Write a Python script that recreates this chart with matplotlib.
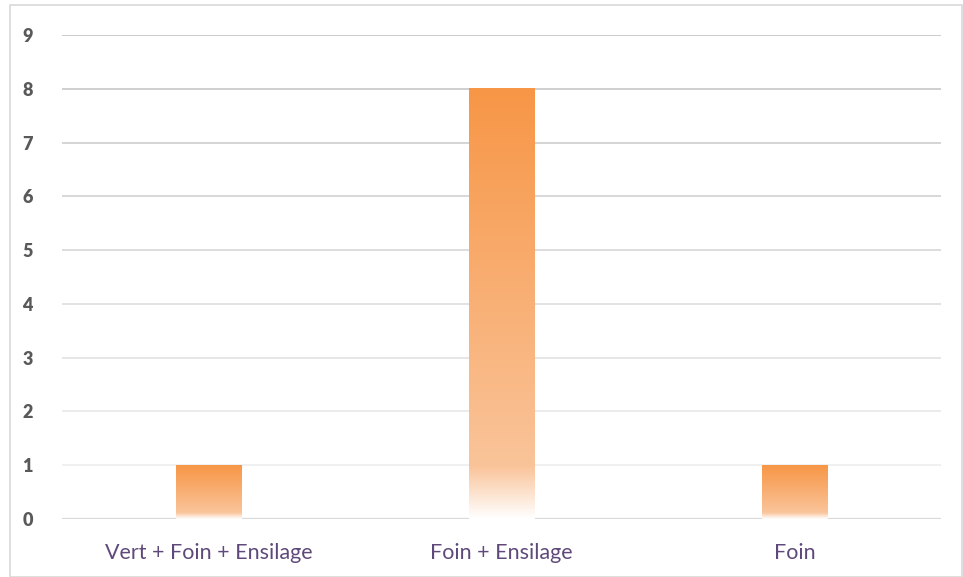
import numpy as np
import matplotlib
matplotlib.use("Agg")
import matplotlib.pyplot as plt
from matplotlib.colors import LinearSegmentedColormap
from matplotlib.patches import Rectangle

categories = ["Vert + Foin + Ensilage", "Foin + Ensilage", "Foin"]
values = [1, 8, 1]
yticks = [0, 1, 2, 3, 4, 5, 6, 7, 8, 9]

fig = plt.figure(figsize=(9.63, 5.77), dpi=100)
ax = fig.add_axes([62/963, 1-519/577, (941-62)/963, (519-35)/577])

# gradient colormap: bottom white -> top orange
cmap = LinearSegmentedColormap.from_list(
    "g", [(0.0, "#FFFFFF"), (0.12, "#FAC49A"), (1.0, "#F79646")])
grad = np.linspace(0, 1, 256).reshape(-1, 1)

width = 0.222
bars = ax.bar(range(len(categories)), values, width=width, color="none", zorder=3)
for b in bars:
    x0, y0 = b.get_x(), b.get_y()
    w, h = b.get_width(), b.get_height()
    ax.imshow(grad, cmap=cmap, aspect="auto", origin="lower",
              extent=(x0, x0 + w, y0, y0 + h), zorder=3, interpolation="bicubic")

ax.set_xlim(-0.5, len(categories) - 0.5)
ax.set_ylim(0, 9)
ax.set_yticks(yticks)
ax.set_xticks(range(len(categories)))
ax.set_xticklabels(categories, fontsize=15.5, color="#5F497A", family=["Lato", "DejaVu Sans"])
ax.set_yticklabels([str(t) for t in yticks], fontsize=13, fontweight="heavy",
                   color="#595959", family=["Lato", "DejaVu Sans"])
ax.tick_params(axis="both", length=0)
ax.tick_params(axis="y", pad=21)
ax.tick_params(axis="x", pad=17)

ax.yaxis.grid(True, zorder=0)
ax.set_axisbelow(True)
glines = ax.get_ygridlines()
greys = np.linspace(0.95, 0.76, len(glines))
for i, gl in enumerate(glines):
    gl.set_color((greys[i],) * 3)
    gl.set_linewidth(1.2)
glines[0].set_color("#D9D9D9")
glines[0].set_linewidth(1.6)

for s in ax.spines.values():
    s.set_visible(False)

fig.patches.append(Rectangle((10/963, 0), 952/963, 1 - 5/577, transform=fig.transFigure,
                             fill=False, edgecolor="#D9D9D9", linewidth=1.2))

fig.savefig("out.png", dpi=100)
